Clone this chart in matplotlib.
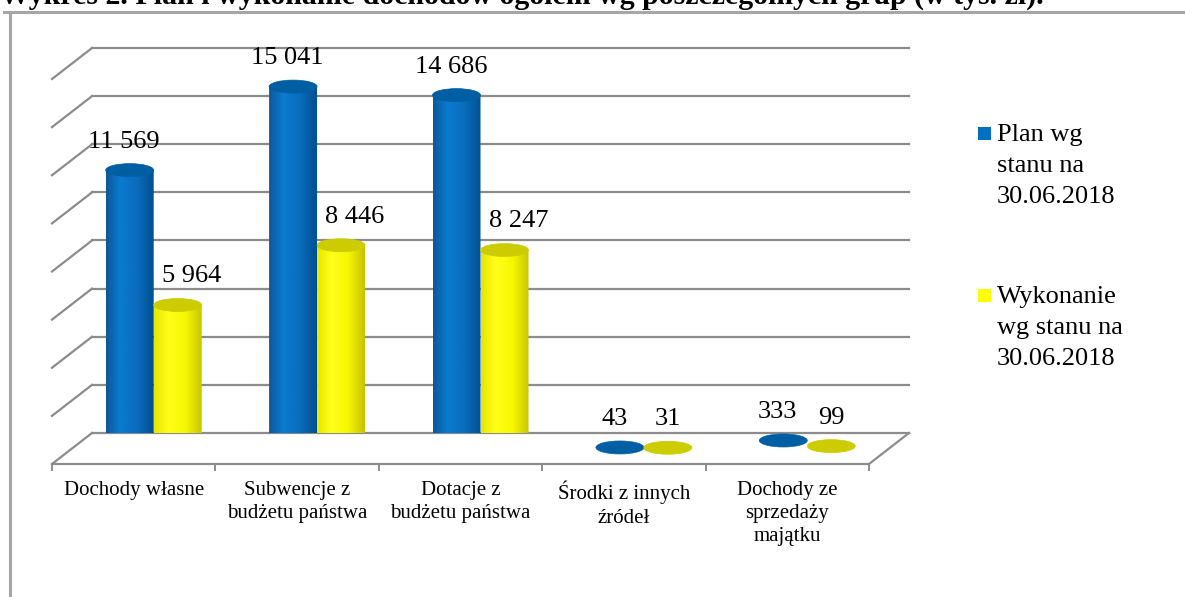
import matplotlib.pyplot as plt
import numpy as np
from matplotlib.colors import LinearSegmentedColormap
from matplotlib.patches import Ellipse, PathPatch, Rectangle
from matplotlib.path import Path
from matplotlib.lines import Line2D

plt.rcParams['font.family'] = ['Liberation Serif', 'DejaVu Serif']

categories = ["Dochody własne", "Subwencje z\nbudżetu państwa", "Dotacje z\nbudżetu państwa",
              "Środki z innych\nźródeł", "Dochody ze\nsprzedaży\nmajątku"]
plan = [11569, 15041, 14686, 43, 333]
wykonanie = [5964, 8446, 8247, 31, 99]
series_names = ["Plan wg\nstanu na\n30.06.2018", "Wykonanie\nwg stanu na\n30.06.2018"]
title = "Wykres 2. Plan i wykonanie dochodów ogółem wg poszczególnych grup (w tys. zł)."

W, H = 1185, 597
fig = plt.figure(figsize=(W / 100, H / 100), dpi=100)

# back wall of the 3D chart in pixels
wall_l, wall_r, wall_top, wall_bot = 92, 909, 48, 433
ax = fig.add_axes([wall_l / W, 1 - wall_bot / H, (wall_r - wall_l) / W, (wall_bot - wall_top) / H])
ymax = 16000
n = len(categories)
ax.set_xlim(0, n)
ax.set_ylim(0, ymax)
ax.axis('off')

px_x = n / (wall_r - wall_l)        # data units per pixel, horizontally
px_y = ymax / (wall_bot - wall_top)  # data units per pixel, vertically
ddx, ddy = -40 * px_x, -31 * px_y    # depth offset (back -> front)

grid_c = '#8c8c8c'
for v in range(0, ymax + 1, 2000):
    ax.plot([0, n], [v, v], color=grid_c, lw=1.6, clip_on=False, zorder=1)
    ax.plot([0, ddx], [v, v + ddy], color=grid_c, lw=1.6, clip_on=False, zorder=1)
ax.plot([ddx, n + ddx], [ddy, ddy], color=grid_c, lw=1.6, clip_on=False, zorder=1)
ax.plot([n, n + ddx], [0, ddy], color=grid_c, lw=1.6, clip_on=False, zorder=1)
for i in range(n + 1):
    ax.plot([i + ddx, i + ddx], [ddy, ddy - 6 * px_y], color=grid_c, lw=1.4, clip_on=False, zorder=1)

blue_cm = LinearSegmentedColormap.from_list('b', [(0, '#0d5898'), (0.3, '#0a7bd0'),
                                                  (0.65, '#0a6cbc'), (1, '#00508f')])
yell_cm = LinearSegmentedColormap.from_list('y', [(0, '#e6e600'), (0.3, '#ffff1a'),
                                                  (0.65, '#f7f700'), (1, '#c6c200')])
tops = {'b': '#005ea3', 'y': '#cccc00'}

rx = 24 * px_x
ry = 6.5 * px_y
base = ddy / 2
grad = np.linspace(0, 1, 200).reshape(1, -1)


def cylinder(xc, val, cmap, top_color):
    top = base + val
    t = np.linspace(np.pi, 2 * np.pi, 60)
    verts = [(xc - rx, top)]
    verts += list(zip(xc + rx * np.cos(t), base + ry * np.sin(t)))
    verts += [(xc + rx, top), (xc - rx, top)]
    codes = [Path.MOVETO] + [Path.LINETO] * (len(verts) - 2) + [Path.CLOSEPOLY]
    body = PathPatch(Path(verts, codes), facecolor='none', edgecolor='none')
    ax.add_patch(body)
    im = ax.imshow(grad, cmap=cmap, aspect='auto', zorder=3,
                   extent=[xc - rx, xc + rx, base - ry, top])
    im.set_clip_path(body)
    ax.add_patch(Ellipse((xc, top), 2 * rx, 2 * ry, facecolor=top_color,
                         edgecolor=top_color, lw=0.5, zorder=4, clip_on=False))
    return top


for i in range(n):
    c = i + 0.5 + ddx / 2
    for j, (vals, cm, tc) in enumerate([(plan, blue_cm, tops['b']), (wykonanie, yell_cm, tops['y'])]):
        xc = c - rx if j == 0 else c + rx
        top = cylinder(xc, vals[i], cm, tc)
        # labels of the tall yellow bars sit a little to the right, as in the 3D layout
        shift = 10 if (j == 1 and vals[i] > 1000) else (-4 if j == 0 else 0)
        ax.annotate(f"{vals[i]:,}".replace(",", " "), (xc, top + ry), xytext=(shift, 8),
                    textcoords='offset points', ha='center', va='bottom', fontsize=19,
                    annotation_clip=False, zorder=5)
    ax.text(i + 0.5 + ddx, ddy - 17 * px_y, categories[i], ha='center', va='top',
            fontsize=15, linespacing=1.3, clip_on=False)

ax.set_xlim(0, n)
ax.set_ylim(0, ymax)

# legend
for k, (name, col) in enumerate(zip(series_names, ['#0070c0', '#ffff00'])):
    y0 = 126 + k * 162
    fig.add_artist(Rectangle((978 / W, 1 - (y0 + 14) / H), 13 / W, 13 / H,
                             transform=fig.transFigure, facecolor=col, edgecolor='none'))
    fig.text(997 / W, 1 - (y0 - 2) / H, name, ha='left', va='top', fontsize=19, linespacing=1.52)

# frame of the chart area
fig.add_artist(Line2D([10 / W, 10 / W], [0, 1 - 12 / H], color='#a6a6a6', lw=2.2,
                      transform=fig.transFigure))
fig.add_artist(Line2D([4 / W, 1], [1 - 12 / H, 1 - 12 / H], color='#a6a6a6', lw=2.2,
                      transform=fig.transFigure))

fig.text(0.0, 1 - 4 / H, title, ha='left', va='baseline', fontsize=21.5, fontweight='bold')

fig.savefig('out.png', dpi=100)
